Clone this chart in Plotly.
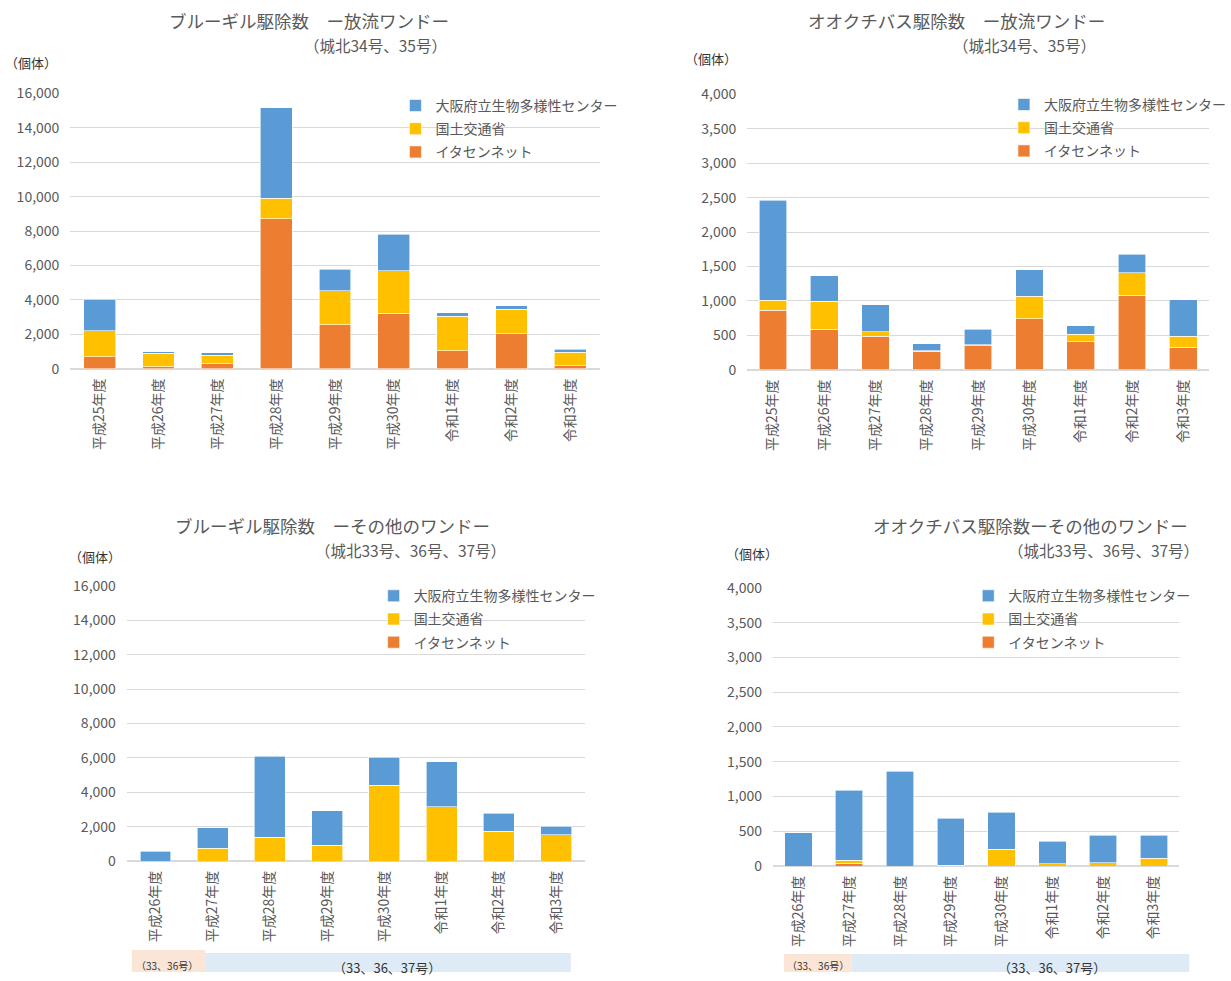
import plotly.graph_objects as go

# ---------------- data ----------------
cats_release = ["平成25年度", "平成26年度", "平成27年度", "平成28年度", "平成29年度",
                "平成30年度", "令和1年度", "令和2年度", "令和3年度"]
cats_other = ["平成26年度", "平成27年度", "平成28年度", "平成29年度",
              "平成30年度", "令和1年度", "令和2年度", "令和3年度"]

series_names = ["イタセンネット", "国土交通省", "大阪府立生物多様性センター"]

# ブルーギル 放流ワンド
bg_release_itasen = [700, 120, 300, 8720, 2560, 3220, 1050, 2040, 170]
bg_release_mlit = [1500, 770, 470, 1200, 1960, 2480, 2000, 1410, 780]
bg_release_center = [1830, 100, 160, 5250, 1260, 2110, 210, 200, 170]

# オオクチバス 放流ワンド
bb_release_itasen = [865, 590, 485, 270, 345, 740, 410, 1080, 325]
bb_release_mlit = [145, 405, 70, 5, 20, 325, 105, 330, 160]
bb_release_center = [1450, 370, 390, 100, 220, 390, 125, 270, 535]

# ブルーギル その他のワンド
bg_other_itasen = [0, 0, 0, 0, 0, 0, 0, 0]
bg_other_mlit = [0, 750, 1390, 930, 4400, 3170, 1740, 1540]
bg_other_center = [560, 1180, 4710, 1990, 1640, 2590, 1040, 470]

# オオクチバス その他のワンド
bb_other_itasen = [0, 40, 0, 0, 0, 0, 0, 0]
bb_other_mlit = [0, 40, 0, 10, 245, 30, 50, 115]
bb_other_center = [480, 1010, 1365, 680, 530, 330, 395, 330]

colors = ["#ED7D31", "#FFC000", "#5B9BD5"]
ranks = [3, 2, 1]

W, H = 1231, 981
JP = "Noto Sans CJK JP"
NUM = "Liberation Sans Narrow, Noto Sans CJK JP"
GRAY = "#595959"


def ty(y):
    # vertical placement correction
    return (y - 10.5) / 0.979


def tx(x):
    # horizontal placement correction
    return (x - 1) / 0.991


def px(x):
    return min(1.0, max(0.0, tx(x) / W))


def py(y):
    return min(1.0, max(0.0, 1 - ty(y) / H))


fig = go.Figure()

panels = [
    dict(cats=cats_release, data=[bg_release_itasen, bg_release_mlit, bg_release_center],
         xd=(72, 606), yd=(368, 93), rng=16000, dt=2000, legend_xy=(400, 105)),
    dict(cats=cats_release, data=[bb_release_itasen, bb_release_mlit, bb_release_center],
         xd=(755, 1225), yd=(369, 94), rng=4000, dt=500, legend_xy=(1014, 104)),
    dict(cats=cats_other, data=[bg_other_itasen, bg_other_mlit, bg_other_center],
         xd=(129, 591), yd=(860, 585), rng=16000, dt=2000, legend_xy=(378, 595)),
    dict(cats=cats_other, data=[bb_other_itasen, bb_other_mlit, bb_other_center],
         xd=(781, 1191), yd=(865, 587), rng=4000, dt=500, legend_xy=(978, 595)),
]

layout_updates = {}
for i, p in enumerate(panels):
    n = "" if i == 0 else str(i + 1)
    leg = "legend" + n
    for k in range(3):
        fig.add_trace(go.Bar(
            x=p["cats"], y=p["data"][k], name=series_names[k],
            marker=dict(color=colors[k], line=dict(color="white", width=0.6)),
            xaxis="x" + n, yaxis="y" + n, legend=leg, legendgroup=f"g{i}{k}",
            legendrank=ranks[k], hoverinfo="x+y+name",
        ))
    layout_updates["xaxis" + n] = dict(
        domain=[px(p["xd"][0]), px(p["xd"][1])], anchor="y" + n,
        showgrid=False, showline=False, ticks="", tickangle=-90,
        tickfont=dict(family=JP, size=14, color=GRAY), ticklabelstandoff=6,
        categoryorder="array", categoryarray=p["cats"], fixedrange=True,
    )
    layout_updates["yaxis" + n] = dict(
        domain=[py(p["yd"][0]), py(p["yd"][1])], anchor="x" + n,
        range=[0, p["rng"]], dtick=p["dt"], tickformat=",",
        showgrid=True, gridcolor="#D9D9D9", gridwidth=1,
        zeroline=True, zerolinecolor="#D9D9D9", zerolinewidth=1.5,
        showline=False, ticks="", ticklabelstandoff=10,
        tickfont=dict(family=NUM, size=14, color=GRAY), fixedrange=True,
    )
    # legend top placed so the first row centre lands at the target
    layout_updates[leg] = dict(
        x=px(p["legend_xy"][0]),
        y=min(1.0, 1 - (ty(p["legend_xy"][1]) - 16) / H),
        xanchor="left", yanchor="top",
        traceorder="grouped", tracegroupgap=2,
        font=dict(family=JP, size=14, color=GRAY), bgcolor="rgba(0,0,0,0)",
        itemwidth=30,
    )

fig.update_layout(**layout_updates)

annots = [
    ("ブルーギル駆除数　ー放流ワンドー", 313, 20, 17.5, GRAY),
    ("（城北34号、35号）", 380, 44, 15.5, GRAY),
    ("（個体）", 32, 62, 13, "#333333"),
    ("オオクチバス駆除数　ー放流ワンドー", 966, 20, 17.5, GRAY),
    ("（城北34号、35号）", 1035, 44, 15.5, GRAY),
    ("（個体）", 718, 58, 13, "#333333"),
    ("ブルーギル駆除数　ーその他のワンドー", 337, 525, 17.5, GRAY),
    ("（城北33号、36号、37号）", 415, 549, 15.5, GRAY),
    ("（個体）", 97, 556, 13, "#333333"),
    ("オオクチバス駆除数ーその他のワンドー", 1041, 525, 17.5, GRAY),
    ("（城北33号、36号、37号）", 1114, 549, 15.5, GRAY),
    ("（個体）", 760, 553, 13, "#333333"),
    ("（33、36号）", 170, 964, 10, "#333333"),
    ("（33、36、37号）", 392, 966, 13, "#333333"),
    ("（33、36号）", 826, 964, 10, "#333333"),
    ("（33、36、37号）", 1062, 966, 13, "#333333"),
]
annotations = []
for text, x, y, size, col in annots:
    annotations.append(dict(
        text=text, x=px(x), y=py(y), xref="paper", yref="paper",
        xanchor="center", yanchor="middle", showarrow=False,
        font=dict(family=JP, size=size, color=col),
    ))

shapes = []
boxes = [
    (134, 208, 949, 985, "#FBE5D6"),
    (208, 577, 952, 985, "#DEEBF7"),
    (792, 860, 953, 985, "#FBE5D6"),
    (860, 1201, 953, 985, "#DEEBF7"),
]
for x0, x1, y0, y1, c in boxes:
    shapes.append(dict(type="rect", xref="paper", yref="paper",
                       x0=px(x0), x1=px(x1), y0=py(y1), y1=py(y0),
                       fillcolor=c, line=dict(width=0), layer="below"))

fig.update_layout(
    width=W, height=H, autosize=False,
    margin=dict(l=0, r=0, t=0, b=0),
    paper_bgcolor="white", plot_bgcolor="white",
    barmode="stack", bargap=0.46,
    annotations=annotations, shapes=shapes,
    font=dict(family=JP, color=GRAY),
    showlegend=True,
)

post = (
    "var d=document.getElementById('{plot_id}');"
    "d.style.position='fixed';d.style.left='0px';d.style.top='0px';"
    "document.body.style.margin='0';"
    "document.documentElement.style.overflow='hidden';"
    "document.body.style.overflow='hidden';"
)
fig.write_html("out.html", config={"displayModeBar": False}, post_script=post)
